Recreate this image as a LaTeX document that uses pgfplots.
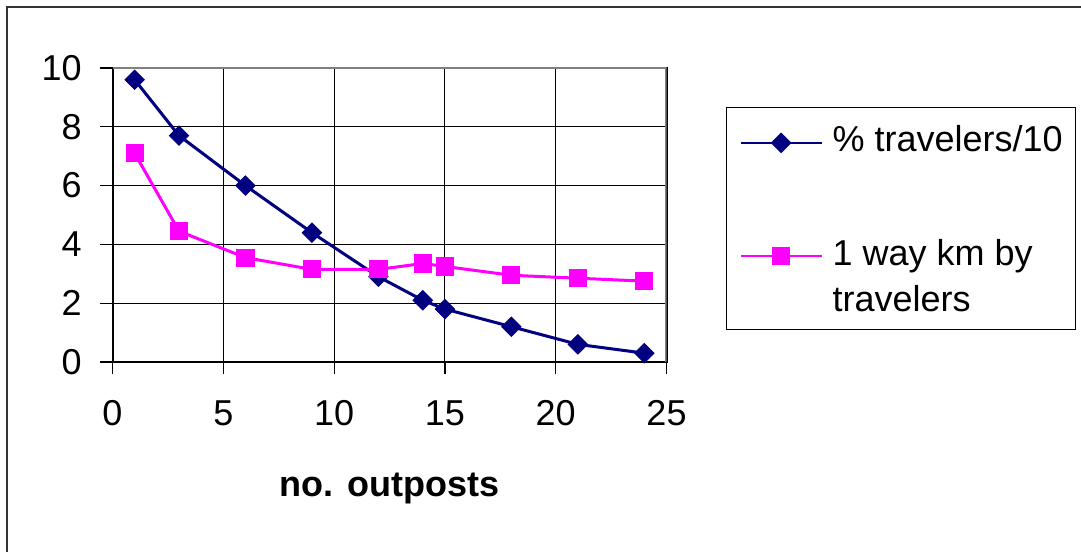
\documentclass[border=0pt]{standalone}
\usepackage{fontspec}
\setmainfont{Liberation Sans}
\usepackage{pgfplots}
\pgfplotsset{compat=1.18}
\definecolor{navyline}{HTML}{000080}
\definecolor{magline}{HTML}{FF00FF}
\definecolor{framegray}{HTML}{808080}

\begin{document}
\begin{tikzpicture}
\begin{axis}[
  at={(56.25bp,95bp)}, anchor=south west,
  width=277bp, height=147bp, scale only axis,
  xmin=0, xmax=25, ymin=0, ymax=10,
  xtick={0,5,...,25}, ytick={0,2,...,10},
  tick pos=left, tick align=outside, major tick length=6bp,
  grid=major, grid style={black, line width=0.5bp},
  axis line style={black, line width=1bp},
  tick style={black, line width=0.6bp},
  /pgf/number format/assume math mode=true,
  tick label style={font=\fontsize{18bp}{21bp}\selectfont, inner sep=0pt},
  yticklabel style={xshift=-9.25bp},
  xticklabel style={yshift=-13bp},
  xlabel={no. outposts},
  xlabel style={font=\bfseries\fontsize{18bp}{21bp}\selectfont,
    at={(axis description cs:0.5,-0.459)}, anchor=base},
  legend style={at={(axis description cs:1.1074,0.8673)}, anchor=north west,
    draw=black, line width=0.6bp, inner xsep=6.5bp, inner ysep=9bp,
    row sep=43.2bp,
    font=\fontsize{18bp}{23bp}\selectfont,
    nodes={inner sep=0pt, text depth=},
    cells={anchor=base west},
    /tikz/every odd column/.append style={column sep=5bp}},
  legend image code/.code={%
    \draw[mark repeat=2, mark phase=2, #1, line width=1bp]
      plot coordinates {(0bp,4.4bp) (20.25bp,4.4bp) (40.5bp,4.4bp)};},
]
\addplot[navyline, line width=1.5bp, mark=square*, mark size=3.4bp,
  mark options={rotate=45, solid, fill=navyline, line width=0.5bp}]
  coordinates {(1,9.6) (3,7.7) (6,6.0) (9,4.4) (12,2.9) (14,2.1) (15,1.8) (18,1.2) (21,0.6) (24,0.3)};
\addlegendentry{\% travelers/10}
\addplot[magline, line width=1.5bp, mark=square*, mark size=4.3bp,
  mark options={solid, fill=magline, line width=0.5bp}]
  coordinates {(1,7.1) (3,4.45) (6,3.55) (9,3.15) (12,3.15) (14,3.35) (15,3.25) (18,2.95) (21,2.85) (24,2.75)};
\addlegendentry{\vtop{\baselineskip=23bp\hbox{1 way km by}\hbox{travelers}}}
% grey upper and right edges of the plot frame
\draw[framegray, line width=1.5bp] (rel axis cs:0,1) -- (rel axis cs:1,1) -- (rel axis cs:1,0);
\end{axis}
% outer chart frame
\draw[black!80, line width=1bp] (3.5bp,-20bp) -- (3.5bp,272.5bp) -- (560bp,272.5bp);
\pgfresetboundingbox
\useasboundingbox (0,0) rectangle (540.5bp,276bp);
\end{tikzpicture}
\end{document}
